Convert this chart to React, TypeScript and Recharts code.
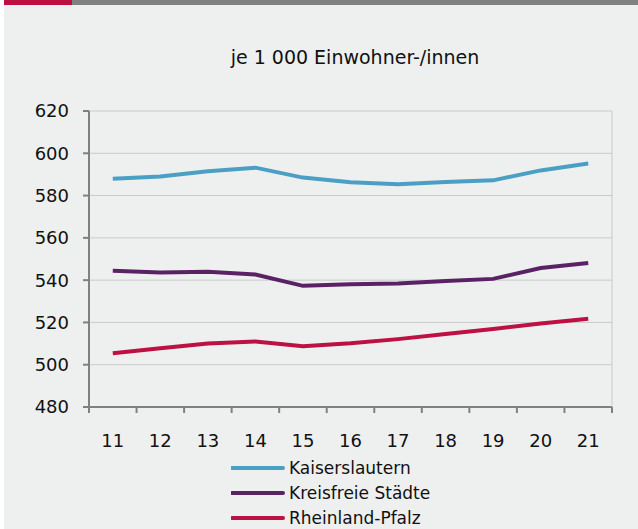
import React from 'react';
import { LineChart, Line, XAxis, YAxis, CartesianGrid, Legend, ReferenceLine } from 'recharts';

const years = [11, 12, 13, 14, 15, 16, 17, 18, 19, 20, 21];
const kaiserslautern = [587.9, 589, 591.5, 593.2, 588.5, 586.3, 585.4, 586.4, 587.2, 591.9, 595.2];
const kreisfreie = [544.5, 543.6, 544, 542.7, 537.3, 538, 538.4, 539.6, 540.6, 545.7, 548.1];
const rheinlandPfalz = [505.4, 507.8, 510, 511, 508.7, 510.1, 512.1, 514.5, 516.9, 519.5, 521.7];
const yTicks = [480, 500, 520, 540, 560, 580, 600, 620];
const boundaryTicks = [10.5, 11.5, 12.5, 13.5, 14.5, 15.5, 16.5, 17.5, 18.5, 19.5, 20.5, 21.5];

const seriesNames = ['Kaiserslautern', 'Kreisfreie Städte', 'Rheinland-Pfalz'];
const seriesColors = ['#4b9fc4', '#5a2265', '#bd1144'];

const data = years.map((y, i) => ({
  year: y,
  k: kaiserslautern[i],
  s: kreisfreie[i],
  r: rheinlandPfalz[i],
}));

const FONT = '"DejaVu Sans", sans-serif';

const LegendContent = (props: any) => {
  const payload = props.payload || [];
  return (
    <div style={{ marginLeft: 231, height: 75 }}>
      {payload.map((p: any) => (
        <div key={p.value} style={{ height: 25, display: 'flex', alignItems: 'flex-start' }}>
          <svg width={58} height={25} style={{ display: 'block' }}>
            <line x1={1} x2={52} y1={14} y2={14} stroke={p.color} strokeWidth={4} strokeLinecap="round" />
          </svg>
          <span style={{ fontFamily: FONT, fontSize: 17, color: '#111', lineHeight: '25px', marginTop: 2, whiteSpace: 'nowrap' }}>{p.value}</span>
        </div>
      ))}
    </div>
  );
};

export default function App() {
  return (
    <div style={{ position: 'absolute', left: 0, top: 0, width: 638, height: 529, background: '#ffffff', overflow: 'hidden' }}>
      <div style={{ position: 'absolute', left: 4, top: 5, width: 634, height: 524, background: '#eef0ef' }} />
      <div style={{ position: 'absolute', left: 4, top: 0, width: 68, height: 5, background: '#bf0f40' }} />
      <div style={{ position: 'absolute', left: 72, top: 0, width: 566, height: 5, background: '#808080' }} />
      <div style={{ position: 'absolute', left: 0, top: 45, width: 710, textAlign: 'center', fontFamily: FONT, fontSize: 19, color: '#111', lineHeight: '24px', whiteSpace: 'nowrap' }}>
        je 1 000 Einwohner-/innen
      </div>
      <div style={{ position: 'absolute', left: 0, top: 0 }}>
        <LineChart width={638} height={529} data={data} margin={{ top: 111, right: 26, bottom: 0, left: 0 }}>
          <CartesianGrid vertical={false} stroke="#c9cbcb" strokeWidth={1} />
          <ReferenceLine xAxisId="b" x={21.5} stroke="#c9cbcb" strokeWidth={1} />
          <YAxis
            type="number"
            domain={[480, 620]}
            ticks={yTicks}
            width={89}
            axisLine={{ stroke: '#808080', strokeWidth: 2 }}
            tickLine={{ stroke: '#808080', strokeWidth: 2 }}
            tickSize={6}
            tickMargin={14}
            tick={{ fill: '#111', fontSize: 18, fontFamily: FONT }}
            interval={0}
          />
          <XAxis
            xAxisId="b"
            dataKey="year"
            type="number"
            domain={[10.5, 21.5]}
            ticks={boundaryTicks}
            interval={0}
            height={1}
            tickFormatter={() => ''}
            axisLine={{ stroke: '#808080', strokeWidth: 2 }}
            tickLine={{ stroke: '#808080', strokeWidth: 2 }}
            tickSize={6}
          />
          <XAxis
            xAxisId="c"
            dataKey="year"
            type="number"
            domain={[10.5, 21.5]}
            ticks={years}
            interval={0}
            height={46}
            axisLine={false}
            tickLine={false}
            tickSize={0}
            tickMargin={26}
            tick={{ fill: '#111', fontSize: 18, fontFamily: FONT }}
          />
          <Legend verticalAlign="bottom" align="left" content={<LegendContent />} />
          <Line xAxisId="c" dataKey="k" name={seriesNames[0]} stroke={seriesColors[0]} strokeWidth={4} dot={false} isAnimationActive={false} type="linear" />
          <Line xAxisId="c" dataKey="s" name={seriesNames[1]} stroke={seriesColors[1]} strokeWidth={4} dot={false} isAnimationActive={false} type="linear" />
          <Line xAxisId="c" dataKey="r" name={seriesNames[2]} stroke={seriesColors[2]} strokeWidth={4} dot={false} isAnimationActive={false} type="linear" />
        </LineChart>
      </div>
    </div>
  );
}
